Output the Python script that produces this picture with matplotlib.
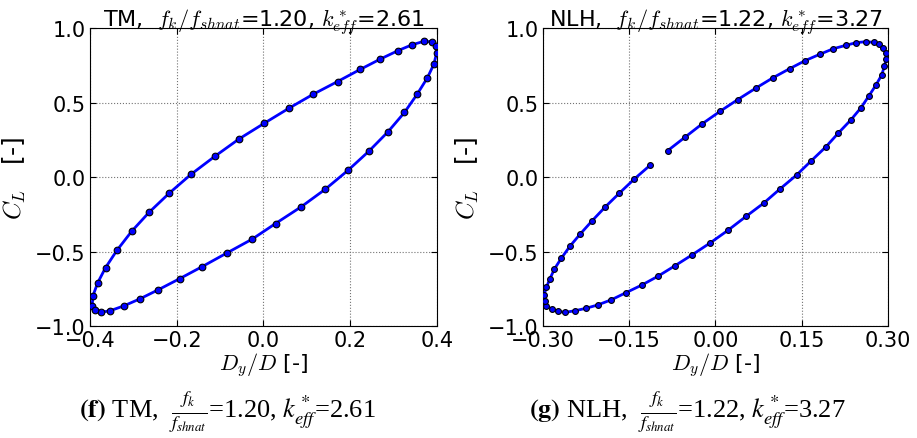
import numpy as np
import matplotlib
matplotlib.use("Agg")
import matplotlib.pyplot as plt

# TM loop (closed loop)
tm_x = [-0.395, -0.393, -0.382, -0.364, -0.338, -0.304, -0.264, -0.217, -0.167, -0.112,
        -0.056, 0.002, 0.059, 0.115, 0.171, 0.223, 0.269, 0.310, 0.343, 0.369,
        0.388, 0.397, 0.399, 0.393, 0.378, 0.354, 0.325, 0.287, 0.243, 0.195,
        0.143, 0.087, 0.028, -0.026, -0.085, -0.141, -0.193, -0.242, -0.285, -0.322,
        -0.353, -0.375, -0.388]
tm_y = [-0.863, -0.796, -0.709, -0.608, -0.493, -0.365, -0.238, -0.108, 0.018, 0.139,
        0.256, 0.361, 0.462, 0.556, 0.641, 0.722, 0.791, 0.848, 0.888, 0.910,
        0.908, 0.881, 0.830, 0.758, 0.666, 0.554, 0.433, 0.303, 0.173, 0.045,
        -0.081, -0.200, -0.312, -0.417, -0.511, -0.601, -0.682, -0.756, -0.818, -0.865,
        -0.897, -0.908, -0.892]

# NLH loop, open (gap on the upper branch)
nlh_x = [-0.083, -0.053, -0.023, 0.008, 0.039, 0.070, 0.100, 0.129, 0.156, 0.181,
         0.205, 0.227, 0.245, 0.261, 0.275, 0.285, 0.292, 0.296, 0.297, 0.294,
         0.289, 0.279, 0.267, 0.253, 0.235, 0.214, 0.192, 0.167, 0.141, 0.112,
         0.084, 0.053, 0.022, -0.009, -0.040, -0.071, -0.100, -0.128, -0.156, -0.181,
         -0.205, -0.226, -0.245, -0.261, -0.274, -0.284, -0.295, -0.296, -0.298, -0.294,
         -0.288, -0.280, -0.268, -0.253, -0.235, -0.215, -0.192, -0.167, -0.141, -0.113]
nlh_y = [0.177, 0.267, 0.357, 0.441, 0.520, 0.596, 0.666, 0.727, 0.781, 0.823,
         0.861, 0.884, 0.902, 0.908, 0.904, 0.890, 0.868, 0.832, 0.791, 0.744,
         0.684, 0.616, 0.545, 0.464, 0.381, 0.296, 0.202, 0.110, 0.013, -0.081,
         -0.175, -0.265, -0.357, -0.442, -0.521, -0.597, -0.666, -0.725, -0.777, -0.824,
         -0.859, -0.882, -0.898, -0.908, -0.902, -0.888, -0.864, -0.834, -0.790, -0.740,
         -0.684, -0.617, -0.545, -0.464, -0.382, -0.296, -0.202, -0.108, -0.013, 0.081]

tm_xticks = [-0.4, -0.2, 0.0, 0.2, 0.4]
nlh_xticks = [-0.3, -0.15, 0.0, 0.15, 0.3]
yticks = [-1.0, -0.5, 0.0, 0.5, 1.0]

plt.rcParams['mathtext.fontset'] = 'cm'
plt.rcParams['font.family'] = 'DejaVu Sans'


def setup_axes(ax, xticks, fmt, title):
    ax.set_xlim(xticks[0], xticks[-1])
    ax.set_ylim(-1.0, 1.0)
    ax.set_xticks(xticks)
    ax.set_yticks(yticks)
    ax.set_xticklabels([fmt.format(t).replace('-', '\u2212') for t in xticks])
    ax.set_yticklabels(['{:.1f}'.format(t).replace('-', '\u2212') for t in yticks])
    ax.tick_params(direction='in', top=True, right=True, length=4, labelsize=15, pad=3)
    ax.grid(True, color='0.45', linestyle=':', linewidth=0.8)
    ax.set_xlabel(r'$D_y/D$ [-]', fontsize=16, labelpad=0)
    ax.set_ylabel(r'$C_L$   [-]', fontsize=18, labelpad=5)
    ax.set_title(title, fontsize=16, pad=2)


fig = plt.figure(figsize=(9.17, 4.39), dpi=100)
ax1 = fig.add_axes([0.0981, 0.2551, 0.3784, 0.6788])
ax2 = fig.add_axes([0.5921, 0.2551, 0.3762, 0.6788])

x1 = np.append(tm_x, tm_x[0])
y1 = np.append(tm_y, tm_y[0])
ax1.plot(x1, y1, '-', color='blue', lw=2, zorder=3)
ax1.plot(tm_x, tm_y, 'o', mfc='blue', mec='black', mew=0.8, ms=4.8, zorder=4)
setup_axes(ax1, tm_xticks, '{:.1f}', r'TM,  $f_k/f_{shnat}$=1.20, $k^*_{eff}$=2.61')

ax2.plot(nlh_x, nlh_y, '-', color='blue', lw=2, zorder=3)
ax2.plot(nlh_x, nlh_y, 'o', mfc='blue', mec='black', mew=0.8, ms=4.2, zorder=4)
setup_axes(ax2, nlh_xticks, '{:.2f}', r'NLH,  $f_k/f_{shnat}$=1.22, $k^*_{eff}$=3.27')

fig.text(0.248, 0.062, r'$\mathbf{(f)}$ TM,  $\frac{f_k}{f_{shnat}}$=1.20, $k^*_{eff}$=2.61',
         ha='center', va='center', fontsize=19, family='Liberation Serif', math_fontfamily='stix')
fig.text(0.749, 0.062, r'$\mathbf{(g)}$ NLH,  $\frac{f_k}{f_{shnat}}$=1.22, $k^*_{eff}$=3.27',
         ha='center', va='center', fontsize=19, family='Liberation Serif', math_fontfamily='stix')

fig.savefig('out.png', dpi=100)
